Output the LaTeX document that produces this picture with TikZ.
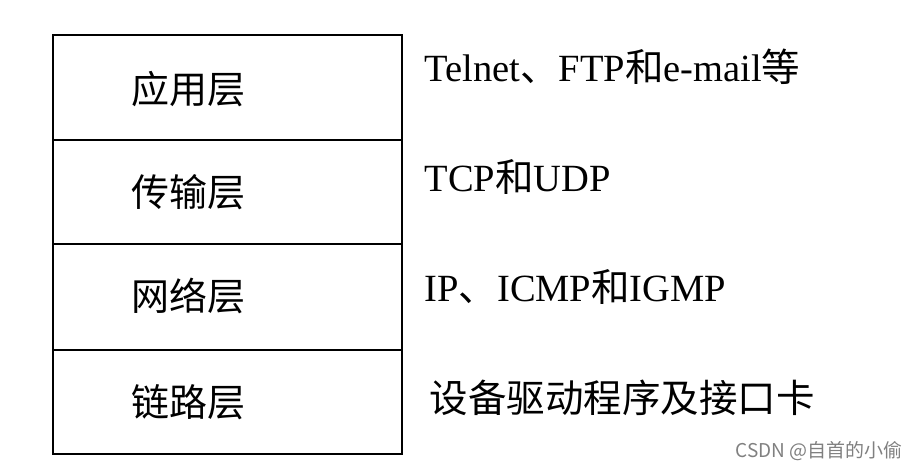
\documentclass[tikz,border=0pt]{standalone}
\usepackage{fontspec}
\setmainfont{Liberation Serif}
\newfontfamily\cjk{Noto Sans CJK SC}

\begin{document}
\begin{tikzpicture}[x=1pt,y=-1pt]
\tikzstyle{layerbox}=[line width=1.6pt]
\tikzstyle{layer}=[font=\cjk\fontsize{38}{40}\selectfont]
\tikzstyle{proto}=[anchor=base west,font=\fontsize{38.5}{40}\selectfont]
\tikzstyle{wmtext}=[anchor=base east,text=black!50,font=\cjk\fontsize{19}{21}\selectfont]

\useasboundingbox (0,0) rectangle (922,470);

%the four layers
\draw[layerbox] (53,35) rectangle (402,140);
\draw[layerbox] (53,140) rectangle (402,244);
\draw[layerbox] (53,244) rectangle (402,350);
\draw[layerbox] (53,350) rectangle (402,454);

\node[layer] (app) at (188,89) {应用层};
\node[layer] (trans) at (188,192) {传输层};
\node[layer] (net) at (188,296) {网络层};
\node[layer] (link) at (188,402) {链路层};

%protocols of each layer
\node[proto] (appp) at (421,82) {Telnet{\cjk 、}FTP{\cjk 和}e-mail{\cjk 等}};
\node[proto] (transp) at (421,192) {TCP{\cjk 和}UDP};
\node[proto] (netp) at (421,302) {IP{\cjk 、}ICMP{\cjk 和}IGMP};
\node[proto] (linkp) at (426,413) {\cjk 设备驱动程序及接口卡};

\node[wmtext] (wm) at (906,457) {CSDN @自首的小偷};

\end{tikzpicture}
\end{document}
